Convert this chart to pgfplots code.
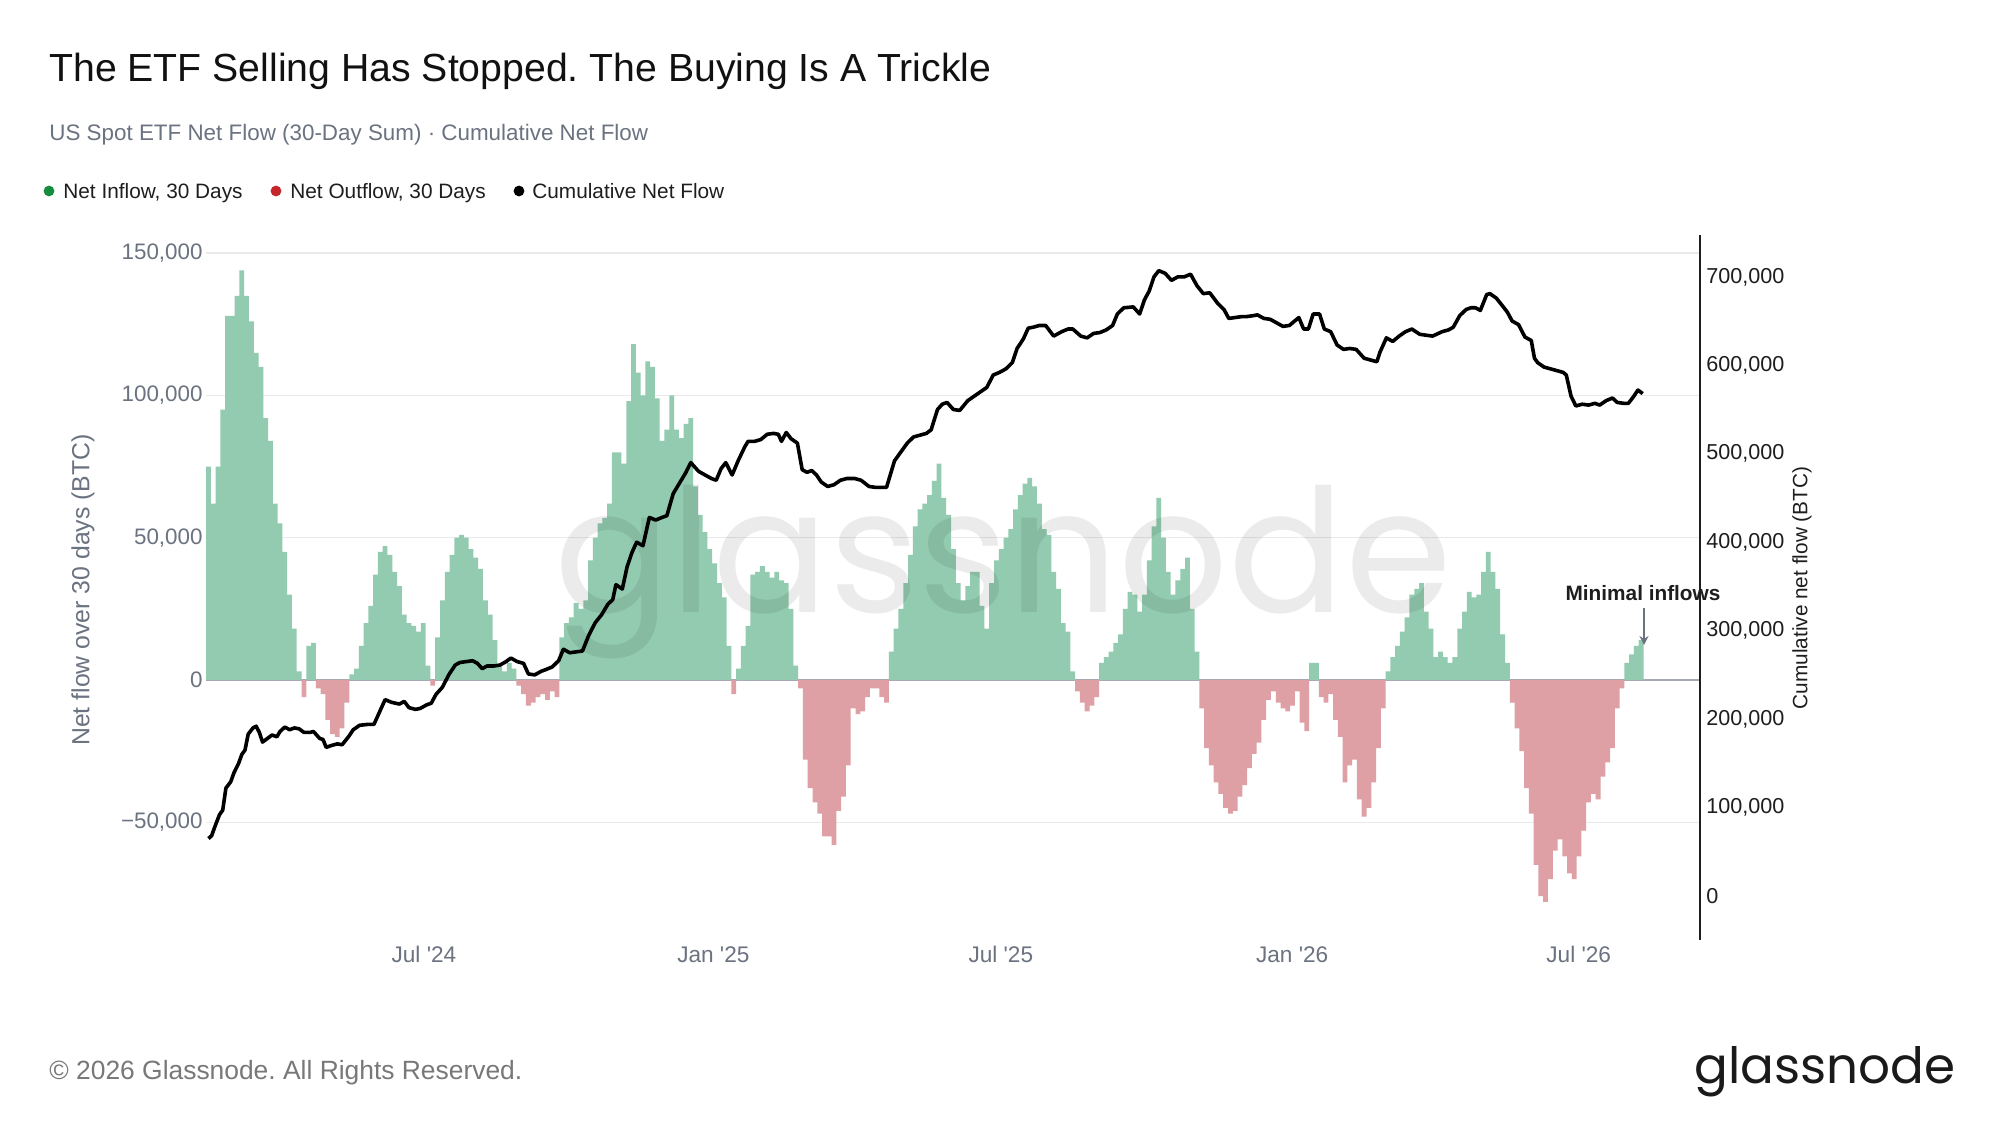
\documentclass[border=0pt]{standalone}
\usepackage{fontspec}
\setmainfont{Liberation Sans}
\newfontfamily\logofont{Poppins}
\usepackage{pgfplots}
\pgfplotsset{compat=1.18}
\usepackage{pgfplotstable}
\usetikzlibrary{arrows.meta}
\frenchspacing
\definecolor{inflow}{RGB}{146,203,175}
\definecolor{outflow}{RGB}{222,160,165}
\definecolor{gridc}{RGB}{234,234,236}
\definecolor{zeroc}{RGB}{165,170,180}
\definecolor{greytxt}{RGB}{107,114,128}
\definecolor{darktxt}{RGB}{30,30,30}
\definecolor{titlec}{RGB}{17,17,17}
\definecolor{leggreen}{RGB}{22,140,62}
\definecolor{legred}{RGB}{196,38,44}
\definecolor{footc}{RGB}{120,120,120}
\definecolor{logoc}{RGB}{26,26,26}

\pgfplotstableread{
d v
46 75000
49 62000
52 75000
55 95000
58 128000
61 128000
64 135000
67 144000
70 135000
73 126000
76 115000
79 110000
82 92000
85 84000
88 62000
91 55000
94 45000
97 30000
100 18000
103 3000
106 -6000
109 12000
112 13000
115 -3000
118 -5000
121 -14000
124 -19000
127 -20000
130 -17000
133 -8000
136 2000
139 4000
142 12000
145 20000
148 26000
151 37000
154 45000
157 47000
160 44000
163 38000
166 33000
169 23000
172 20000
175 19000
178 17000
181 20000
184 5000
187 -2000
190 15000
193 28000
196 38000
199 44000
202 50000
205 51000
208 50000
211 46000
214 43000
217 39000
220 28000
223 23000
226 14000
229 5000
232 3000
235 6000
238 4000
241 -2000
244 -5000
247 -9000
250 -8000
253 -6000
256 -5000
259 -7000
262 -4000
265 -6000
268 15000
271 20000
274 22000
277 27000
280 25000
283 28000
286 42000
289 50000
292 55000
295 57000
298 62000
301 80000
304 80000
307 76000
310 98000
313 118000
316 108000
319 100000
322 112000
325 110000
328 99000
331 84000
334 88000
337 100000
340 88000
343 85000
346 90000
349 92000
352 68000
355 58000
358 52000
361 46000
364 41000
367 34000
370 29000
373 12000
376 -5000
379 4000
382 12000
385 19000
388 37000
391 38000
394 40000
397 38000
400 36000
403 38000
406 35000
409 34000
412 25000
415 5000
418 -3000
421 -28000
424 -38000
427 -43000
430 -47000
433 -55000
436 -55000
439 -58000
442 -46000
445 -41000
448 -30000
451 -10000
454 -12000
457 -11000
460 -6000
463 -3000
466 -3000
469 -6000
472 -8000
475 10000
478 18000
481 25000
484 34000
487 44000
490 54000
493 60000
496 62000
499 65000
502 70000
505 76000
508 64000
511 58000
514 46000
517 34000
520 28000
523 33000
526 38000
529 38000
532 26000
535 18000
538 34000
541 42000
544 46000
547 50000
550 53000
553 60000
556 65000
559 69000
562 71000
565 68000
568 62000
571 53000
574 51000
577 38000
580 32000
583 20000
586 17000
589 3000
592 -4000
595 -8000
598 -11000
601 -9000
604 -6000
607 6000
610 8000
613 10000
616 13000
619 16000
622 25000
625 31000
628 30000
631 24000
634 30000
637 42000
640 54000
643 64000
646 50000
649 38000
652 30000
655 35000
658 39000
661 43000
664 25000
667 10000
670 -10000
673 -24000
676 -30000
679 -36000
682 -40000
685 -45000
688 -47000
691 -46000
694 -41000
697 -37000
700 -31000
703 -26000
706 -22000
709 -14000
712 -7000
715 -4000
718 -8000
721 -10000
724 -11000
727 -9000
730 -4000
733 -15000
736 -18000
739 6000
742 6000
745 -6000
748 -8000
751 -5000
754 -14000
757 -20000
760 -36000
763 -30000
766 -28000
769 -42000
772 -48000
775 -45000
778 -36000
781 -24000
784 -10000
787 3000
790 8000
793 12000
796 17000
799 22000
802 30000
805 32000
808 34000
811 24000
814 18000
817 8000
820 10000
823 8000
826 6000
829 8000
832 18000
835 24000
838 31000
841 29000
844 30000
847 38000
850 45000
853 38000
856 32000
859 16000
862 6000
865 -8000
868 -17000
871 -25000
874 -38000
877 -47000
880 -65000
883 -76000
886 -78000
889 -70000
892 -60000
895 -56000
898 -62000
901 -68000
904 -70000
907 -62000
910 -53000
913 -43000
916 -40000
919 -42000
922 -34000
925 -29000
928 -24000
931 -10000
934 -3000
937 6000
940 9000
943 12000
946 14000
}\flowtable

\pgfplotstableread{
d c
46 65000
48 68000
50 78000
53 92000
55 97000
57 122000
60 129000
62 139000
65 150000
67 160000
69 165000
71 183000
74 190000
76 192000
78 185000
80 174000
83 178000
86 182000
89 180000
91 186000
94 191000
97 188000
100 190000
103 189000
106 185000
110 185000
112 186000
116 178000
118 177000
120 168000
123 170000
127 172000
130 171000
134 180000
137 188000
141 193000
146 194000
150 194000
154 210000
157 222000
161 219000
166 217000
169 220000
172 213000
176 211000
179 212000
183 216000
186 218000
189 228000
193 236000
197 250000
201 261000
204 264000
208 265000
212 266000
215 263000
218 257000
221 260000
225 260000
229 261000
233 265000
236 269000
240 265000
244 263000
247 251000
251 250000
255 254000
258 256000
262 259000
266 266000
269 279000
273 275000
277 276000
281 277000
285 295000
289 309000
293 318000
297 330000
300 335000
302 352000
306 347000
309 372000
312 388000
315 400000
319 396000
323 428000
327 425000
331 428000
334 430000
338 455000
342 467000
346 479000
349 490000
354 480000
358 476000
362 472000
365 470000
368 483000
371 490000
375 476000
379 493000
383 508000
385 514000
389 514000
393 516000
397 522000
401 523000
404 522000
406 514000
409 524000
412 517000
416 512000
419 482000
422 479000
425 481000
428 476000
431 468000
435 463000
439 465000
443 470000
447 472000
452 472000
456 470000
461 463000
465 462000
469 462000
472 462000
475 480000
477 492000
481 502000
485 512000
489 519000
493 521000
497 523000
500 527000
504 550000
507 556000
510 558000
514 550000
518 549000
523 560000
527 565000
531 570000
535 575000
539 589000
543 592000
547 596000
551 603000
554 619000
558 630000
561 642000
564 643000
568 645000
572 645000
577 633000
582 638000
586 641000
589 641000
594 633000
598 631000
602 636000
606 637000
610 640000
614 645000
617 658000
621 665000
627 666000
631 658000
634 674000
637 684000
640 700000
643 707000
647 704000
651 696000
655 700000
659 700000
663 703000
667 690000
671 681000
675 682000
680 670000
684 663000
687 653000
691 654000
695 655000
698 655000
702 656000
705 657000
709 653000
713 652000
717 648000
721 644000
725 645000
731 654000
734 641000
737 641000
740 658000
744 658000
747 641000
751 638000
755 623000
759 618000
763 619000
767 618000
772 608000
776 606000
780 604000
782 615000
786 631000
790 627000
794 633000
798 638000
802 641000
807 635000
811 634000
815 633000
821 638000
825 640000
828 643000
832 656000
836 663000
839 665000
842 665000
845 662000
849 680000
851 681000
855 676000
859 667000
862 660000
865 650000
869 646000
873 632000
877 628000
879 608000
881 603000
885 598000
889 596000
893 594000
897 592000
899 589000
902 565000
905 554000
909 556000
913 555000
917 557000
920 555000
924 560000
928 563000
931 558000
935 557000
938 557000
941 564000
944 572000
947 568000
}\cumtable

\begin{document}
\begin{tikzpicture}
\fill[white] (0bp,0bp) rectangle (1000bp,562.5bp);
\path[use as bounding box] (0bp,0bp) rectangle (1000bp,562.5bp);

% Title, subtitle
\node[anchor=base west, inner sep=0pt, text=titlec, font=\fontsize{19.6bp}{22bp}\selectfont] at (24.5bp,521.5bp) {The ETF Selling Has Stopped. The Buying Is A Trickle};
\node[anchor=base west, inner sep=0pt, text=greytxt, font=\fontsize{11.2bp}{13bp}\selectfont] at (24.5bp,492bp) {US Spot ETF Net Flow (30-Day Sum) · Cumulative Net Flow};

% Legend
\fill[leggreen] (24.5bp,467bp) circle (2.7bp);
\node[anchor=base west, inner sep=0pt, text=darktxt, font=\fontsize{10.4bp}{12bp}\selectfont] at (31.5bp,463.3bp) {Net Inflow, 30 Days};
\fill[legred] (138bp,467bp) circle (2.7bp);
\node[anchor=base west, inner sep=0pt, text=darktxt, font=\fontsize{10.4bp}{12bp}\selectfont] at (145bp,463.3bp) {Net Outflow, 30 Days};
\fill[black] (259.5bp,467bp) circle (2.7bp);
\node[anchor=base west, inner sep=0pt, text=darktxt, font=\fontsize{10.4bp}{12bp}\selectfont] at (266bp,463.3bp) {Cumulative Net Flow};

\begin{axis}[
  at={(103bp,92.5bp)}, anchor=south west,
  scale only axis, width=747bp, height=352.5bp,
  xmin=44.5, xmax=983, ymin=-91400, ymax=156400,
  scaled x ticks=false, scaled y ticks=false,
  axis line style={draw=none},
  tick style={draw=none},
  xtick={181.4,363.2,543.8,726.8,906.8},
  xticklabels={Jul \textquotesingle24, Jan \textquotesingle25, Jul \textquotesingle25, Jan \textquotesingle26, Jul \textquotesingle26},
  ytick={-50000,50000,100000,150000},
  yticklabels={{−50,000},{50,000},{100,000},{150,000}},
  extra y ticks={0}, extra y tick labels={{0}},
  extra y tick style={grid=major, grid style={color=zeroc, line width=1bp}},
  ymajorgrids, grid style={color=gridc, line width=0.7bp},
  xticklabel style={font=\fontsize{11.3bp}{13bp}\selectfont, text=greytxt, anchor=north, inner sep=0pt, yshift=-3bp},
  yticklabel style={font=\fontsize{11.2bp}{13bp}\selectfont, text=greytxt, anchor=east, inner sep=0pt, xshift=-1.5bp},
]
\addplot[ybar, bar width=3, bar shift=0pt, fill=inflow, draw=none, restrict y to domain=0:1000000] table[x=d, y=v] {\flowtable};
\addplot[ybar, bar width=3, bar shift=0pt, fill=outflow, draw=none, restrict y to domain=-1000000:0] table[x=d, y=v] {\flowtable};
\end{axis}

% watermark
\node[anchor=base, inner sep=0pt, text=black, text opacity=0.08, font=\logofont\fontsize{86bp}{86bp}\selectfont] at (501.5bp,256bp) {glassnode};

\begin{axis}[
  at={(103bp,92.5bp)}, anchor=south west,
  scale only axis, width=747bp, height=352.5bp,
  xmin=44.5, xmax=983, ymin=-49745, ymax=747315,
  scaled x ticks=false, scaled y ticks=false,
  axis x line=none, axis y line*=right,
  y axis line style={color=darktxt, line width=0.8bp},
  tick style={draw=none},
  ytick={0,100000,200000,300000,400000,500000,600000,700000},
  yticklabels={{0},{100,000},{200,000},{300,000},{400,000},{500,000},{600,000},{700,000}},
  yticklabel style={font=\fontsize{10.8bp}{13bp}\selectfont, text=darktxt, anchor=west, inner sep=0pt, xshift=3bp},
]
\addplot[black, line width=1.8bp, line join=round, mark=none] table[x=d, y=c] {\cumtable};
\end{axis}

% axis titles
\node[rotate=90, inner sep=0pt, text=greytxt, font=\fontsize{12.4bp}{14bp}\selectfont] at (41.5bp,267.5bp) {Net flow over 30 days (BTC)};
\node[rotate=90, inner sep=0pt, text=darktxt, font=\fontsize{10.4bp}{12bp}\selectfont] at (901bp,268.5bp) {Cumulative net flow (BTC)};

% annotation
\node[inner sep=0pt, text=darktxt, font=\bfseries\fontsize{10.4bp}{12bp}\selectfont] at (821.5bp,266bp) {Minimal inflows};
\draw[greytxt, line width=0.7bp, -{Stealth[length=4.5bp,width=4.5bp]}] (822bp,258.5bp) -- (822bp,240bp);

% footer
\node[anchor=base west, inner sep=0pt, text=footc, font=\fontsize{13.2bp}{15bp}\selectfont] at (24.5bp,23bp) {© 2026 Glassnode. All Rights Reserved.};
\node[anchor=base, inner sep=0pt, text=logoc, font=\logofont\fontsize{25bp}{25bp}\selectfont] at (912.5bp,21bp) {glassnode};
\end{tikzpicture}
\end{document}
